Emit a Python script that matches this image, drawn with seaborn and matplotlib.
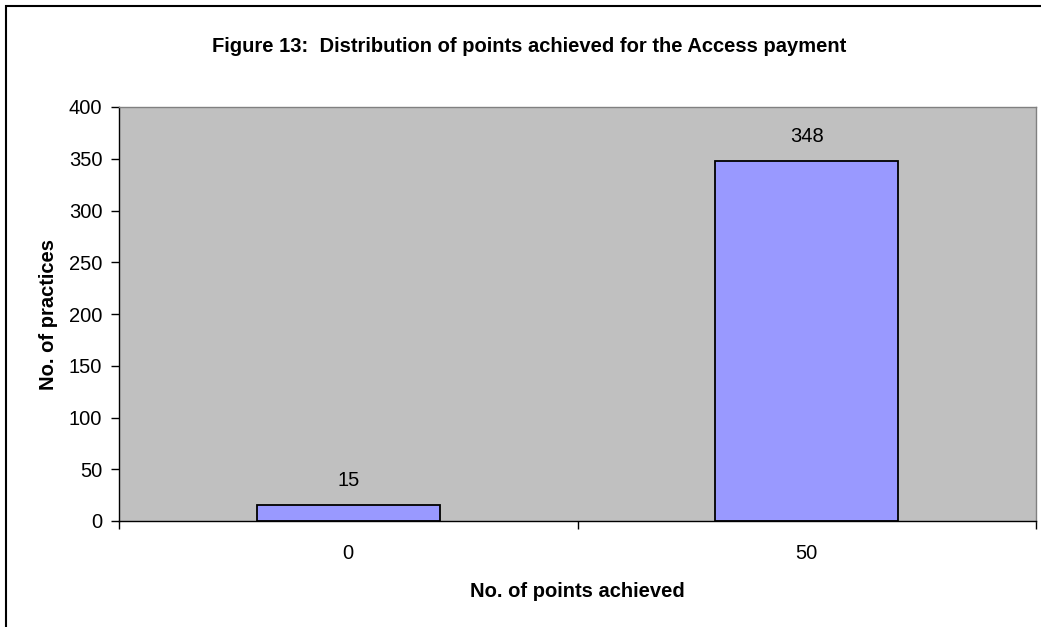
import pandas as pd
import matplotlib.pyplot as plt
import seaborn as sns
from matplotlib.patches import Rectangle
from matplotlib.ticker import FixedLocator

points = ["0", "50"]
practices = [15, 348]
yticks = [0, 50, 100, 150, 200, 250, 300, 350, 400]

df = pd.DataFrame({"points": points, "practices": practices})

sns.set_style("white")
plt.rcParams["font.family"] = ["Liberation Sans", "DejaVu Sans"]
plt.rcParams["text.color"] = "black"
plt.rcParams["axes.labelcolor"] = "black"
plt.rcParams["xtick.color"] = "black"
plt.rcParams["ytick.color"] = "black"

fs = 14.5

fig = plt.figure(figsize=(10.41, 6.27), dpi=100)
ax = fig.add_axes([119 / 1041, 106 / 627, 917 / 1041, 414 / 627])
ax.set_facecolor("#C0C0C0")

sns.barplot(data=df, x="points", y="practices", color="#9999FF", width=0.4,
            saturation=1, edgecolor="black", linewidth=1.3, ax=ax)

for i, v in enumerate(practices):
    ax.annotate(str(v), (i, v), xytext=(0, 11), textcoords="offset points",
                ha="center", va="bottom", fontsize=fs)

ax.set_xlim(-0.5, 1.5)
ax.set_ylim(0, 400)
ax.set_yticks(yticks)
ax.xaxis.set_minor_locator(FixedLocator([-0.5, 0.5, 1.5]))
ax.tick_params(axis="x", which="major", length=0, pad=16.5, labelsize=fs)
ax.tick_params(axis="x", which="minor", length=6, width=1, color="black", direction="out", bottom=True)
ax.tick_params(axis="y", length=6, width=1, color="black", direction="out", left=True, pad=6, labelsize=fs)

for s in ["top", "right"]:
    ax.spines[s].set_color("#808080")
    ax.spines[s].set_linewidth(1)
for s in ["left", "bottom"]:
    ax.spines[s].set_color("black")
    ax.spines[s].set_linewidth(1)

ax.set_xlabel("No. of points achieved", fontsize=fs, fontweight="bold", labelpad=14)
ax.set_ylabel("No. of practices", fontsize=fs, fontweight="bold", labelpad=8)

fig.text(0.508, 1 - 47 / 627, "Figure 13:  Distribution of points achieved for the Access payment",
         ha="center", va="center", fontsize=fs, fontweight="bold")

# outer chart border (only top/left visible in the crop)
fig.add_artist(Rectangle((6 / 1041, -0.5), 2, 1.5 - 6 / 627, transform=fig.transFigure,
                         fill=False, edgecolor="black", linewidth=1.5))

fig.savefig("out.png", dpi=100)
